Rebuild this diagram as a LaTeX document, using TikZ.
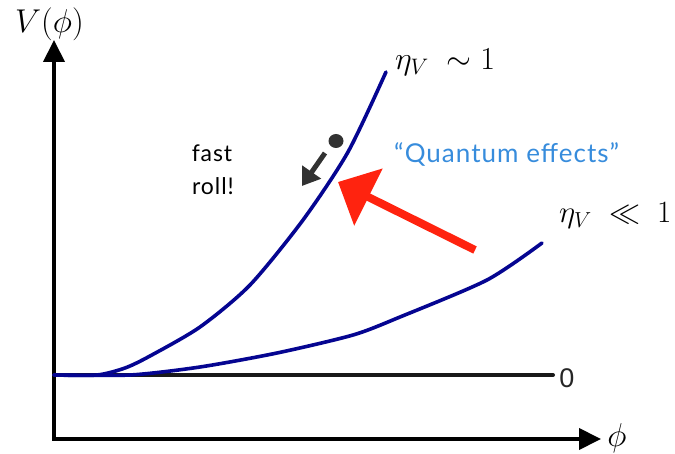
\RequirePackage{fix-cm}
\documentclass[tikz,border=0pt]{standalone}
\usepackage{fontspec}
\usepackage{amssymb}
\usetikzlibrary{arrows.meta,shapes.geometric}
\newfontfamily\gillfont[LetterSpace=4]{Lato}
\newfontfamily\arialfont{Liberation Sans}
\definecolor{curveblue}{RGB}{5,5,145}
\definecolor{quantblue}{RGB}{55,140,220}
\definecolor{arrowred}{RGB}{255,35,15}
\definecolor{darkgray}{RGB}{50,50,50}
\begin{document}
\begin{tikzpicture}[x=1pt,y=-1pt,
  axis/.style={line width=4pt, black, line join=miter},
  zeroline/.style={line width=4pt, black!90, line cap=round},
  curve/.style={line width=3.6pt, curveblue, line cap=round, line join=round},
  mathlabel/.style={inner sep=0pt, font=\fontsize{33}{40}\selectfont},
  sanslabel/.style={inner sep=0pt, font=\gillfont\fontsize{23}{27}\selectfont}]
\useasboundingbox (0,0) rectangle (675,454);
% axes
\coordinate (ytop) at (54,40);
\coordinate (origin) at (54,439);
\coordinate (xend) at (601,439);
\draw[axis, {Triangle[length=22pt,width=21pt]}-{Triangle[length=22pt,width=21pt]}] (ytop) -- (origin) -- (xend);
% zero line
\coordinate (z0) at (54,375);
\coordinate (z1) at (553,375);
\draw[zeroline] (z0) -- (z1);
\node[inner sep=0pt, font=\arialfont\fontsize{27}{30}\selectfont, text=black!85] (zero) at (567,378) {0};
% curves
\draw[curve] plot[smooth, tension=0.45] coordinates {(54,375) (97,375) (125,368) (150,356) (200,327) (250,285) (303,220) (348,152) (386,72)};
\draw[curve] plot[smooth, tension=0.45] coordinates {(54,375) (130,375) (200,367) (277,353) (353,335) (400,317) (487,280) (542,243)};
% labels
\node[mathlabel, anchor=base west] (vlab) at (15,33) {$V(\phi)$};
\node[mathlabel, anchor=center] (philab) at (617,438) {$\phi$};
\node[mathlabel, anchor=base west, font=\fontsize{32}{38}\selectfont] (eta1) at (395,70) {$\eta_V\;\sim 1$};
\node[mathlabel, anchor=base west, font=\fontsize{31}{37}\selectfont] (eta2) at (559,223) {$\eta_V\;\ll\;1$};
\node[sanslabel] (fast) at (212,153) {fast};
\node[sanslabel] (roll) at (213,186) {roll!};
\node[sanslabel, text=quantblue, anchor=base west, font=\gillfont\fontsize{26}{31}\selectfont] (quant) at (394,163) {“Quantum effects”};
% ball and small arrow
\node[fill=darkgray, ellipse, minimum width=15pt, minimum height=14pt, inner sep=0pt] (ball) at (336,141) {};
\coordinate (ga0) at (325,153);
\coordinate (ga1) at (302,186);
\draw[darkgray, line width=5pt, -{Triangle[length=17pt,width=22pt]}] (ga0) -- (ga1);
% red arrow
\coordinate (ra0) at (475,250);
\coordinate (ra1) at (338,182);
\draw[arrowred, line width=8pt, -{Triangle[length=34pt,width=62pt]}] (ra0) -- (ra1);
\end{tikzpicture}
\end{document}
